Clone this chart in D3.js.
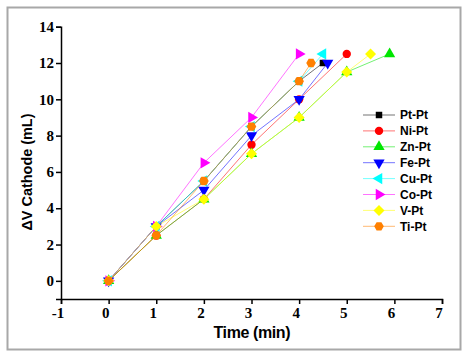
<!DOCTYPE html>
<html>
<head>
<meta charset="utf-8">
<script src="https://cdn.jsdelivr.net/npm/d3@7"></script>
<style>
  body { margin: 0; background: #fff; }
  svg { display: block; }
  .tl { font: bold 15px "Liberation Serif", "Times New Roman", serif; fill: #000; }
</style>
</head>
<body>
<script>
// data
const seriesNames = ["Pt-Pt", "Ni-Pt", "Zn-Pt", "Fe-Pt", "Cu-Pt", "Co-Pt", "V-Pt", "Ti-Pt"]
const colors = ["#000000", "#ff0000", "#00e600", "#0000ff", "#00ffff", "#ff00ff", "#ffff00", "#ff8000"]

const ptPt = [[0, 0], [1, 3], [2, 5.5], [3, 8.5], [4, 11], [4.5, 12]]
const niPt = [[0, 0], [1, 2.5], [2, 4.5], [3, 7.5], [4, 10], [5, 12.5]]
const znPt = [[0, 0], [1, 2.5], [2, 4.5], [3, 7], [4, 9], [5, 11.5], [5.9, 12.5]]
const fePt = [[0, 0], [1, 3], [2, 5], [3, 8], [4, 10], [4.6, 12]]
const cuPt = [[0, 0], [1, 3], [2, 5.5], [3, 8.5], [4, 11], [4.5, 12.5]]
const coPt = [[0, 0], [1, 3], [2, 6.5], [3, 9], [4, 12.5]]
const vPt = [[0, 0], [1, 3], [2, 4.5], [3, 7], [4, 9], [5, 11.5], [5.5, 12.5]]
const tiPt = [[0, 0], [1, 2.5], [2, 5.5], [3, 8.5], [4, 11], [4.25, 12]]

const xTicks = [-1, 0, 1, 2, 3, 4, 5, 6, 7]
const yTicks = [0, 2, 4, 6, 8, 10, 12, 14]

const allSeries = [ptPt, niPt, znPt, fePt, cuPt, coPt, vPt, tiPt]

const w = 466, h = 355

// marker shapes like Origin: square, circle, up, down, left, right, diamond, hexagon
function tri(angle) {
  return {
    draw(ctx, size) {
      let r = Math.sqrt(size / 1.3)
      for (let i = 0; i < 3; i++) {
        let a = angle + i * 2 * Math.PI / 3
        let px = r * Math.cos(a), py = r * Math.sin(a)
        i === 0 ? ctx.moveTo(px, py) : ctx.lineTo(px, py)
      }
      ctx.closePath()
    }
  }
}
const hexagon = {
  draw(ctx, size) {
    let r = Math.sqrt(size / 2.6)
    for (let i = 0; i < 6; i++) {
      let a = i * Math.PI / 3
      let px = r * Math.cos(a), py = r * Math.sin(a)
      i === 0 ? ctx.moveTo(px, py) : ctx.lineTo(px, py)
    }
    ctx.closePath()
  }
}
const diamond = {
  draw(ctx, size) {
    let r = Math.sqrt(size / 2)
    ctx.moveTo(0, -r); ctx.lineTo(r, 0); ctx.lineTo(0, r); ctx.lineTo(-r, 0); ctx.closePath()
  }
}
const shapes = [
  d3.symbol().type(d3.symbolSquare).size(42),
  d3.symbol().type(d3.symbolCircle).size(55),
  d3.symbol().type(tri(-Math.PI / 2)).size(55),
  d3.symbol().type(tri(Math.PI / 2)).size(55),
  d3.symbol().type(tri(Math.PI)).size(55),
  d3.symbol().type(tri(0)).size(55),
  d3.symbol().type(diamond).size(60),
  d3.symbol().type(hexagon).size(60)
]

let svg = d3.select("body").append("svg")
  .attr("width", w)
  .attr("height", h)

// outer frame
svg.append("rect")
  .attr("x", 7.5).attr("y", 7.5)
  .attr("width", 453).attr("height", 342)
  .attr("fill", "none")
  .attr("stroke", "#a8a8a8")
  .attr("stroke-width", 2)

let x = d3.scaleLinear().domain([-1, 7]).range([61, 442])
let y = d3.scaleLinear().domain([-1, 14]).range([299, 26.7])

// axes: lines and ticks from d3, labels drawn separately so the font sticks
let xAxis = svg.append("g")
  .attr("transform", "translate(0," + y(-1) + ")")
  .call(d3.axisBottom(x).tickValues(xTicks).tickSize(5).tickFormat(""))
let yAxis = svg.append("g")
  .attr("transform", "translate(" + x(-1) + ",0)")
  .call(d3.axisLeft(y).tickValues(yTicks).tickSize(5).tickFormat(""))

;[xAxis, yAxis].forEach(a => {
  a.select(".domain").attr("stroke", "#000").attr("stroke-width", 1.5)
  a.selectAll(".tick line").attr("stroke", "#000").attr("stroke-width", 1.5)
})

svg.append("g").selectAll("text")
  .data(xTicks)
  .enter()
  .append("text")
    .attr("class", "tl")
    .attr("x", d => x(d) - 3)
    .attr("y", y(-1) + 19)
    .attr("text-anchor", "middle")
    .text(d => d < 0 ? "-" + Math.abs(d) : d)

svg.append("g").selectAll("text")
  .data(yTicks)
  .enter()
  .append("text")
    .attr("class", "tl")
    .attr("x", x(-1) - 7)
    .attr("y", d => y(d))
    .attr("dy", "0.35em")
    .attr("text-anchor", "end")
    .text(d => d)

// axis titles
svg.append("text")
  .attr("x", 252).attr("y", 338)
  .attr("text-anchor", "middle")
  .attr("font-family", "Liberation Sans")
  .attr("font-weight", "bold")
  .attr("font-size", 16)
  .attr("textLength", 77)
  .text("Time (min)")
svg.append("text")
  .attr("transform", "translate(32,172) rotate(-90)")
  .attr("text-anchor", "middle")
  .attr("font-family", "Liberation Sans")
  .attr("font-weight", "bold")
  .attr("font-size", 15)
  .attr("textLength", 117)
  .attr("lengthAdjust", "spacingAndGlyphs")
  .text("ΔV Cathode (mL)")

let line = d3.line().x(d => x(d[0])).y(d => y(d[1]))

allSeries.forEach((s, i) => {
  let g = svg.append("g")
  g.append("path")
    .attr("d", line(s))
    .attr("fill", "none")
    .attr("stroke", colors[i])
    .attr("stroke-opacity", 0.55)
    .attr("stroke-width", 1)
  g.selectAll("path.m")
    .data(s)
    .enter()
    .append("path")
      .attr("class", "m")
      .attr("d", shapes[i])
      .attr("transform", d => "translate(" + x(d[0]) + "," + y(d[1]) + ")")
      .attr("fill", colors[i])
})

// legend
let legend = svg.append("g")
seriesNames.forEach((n, i) => {
  let ly = 115 + i * 15.9
  legend.append("line")
    .attr("x1", 363).attr("x2", 395)
    .attr("y1", ly).attr("y2", ly)
    .attr("stroke", colors[i])
    .attr("stroke-opacity", 0.55)
    .attr("stroke-width", 1)
  legend.append("path")
    .attr("d", shapes[i])
    .attr("transform", "translate(379," + ly + ")")
    .attr("fill", colors[i])
  legend.append("text")
    .attr("x", 400).attr("y", ly)
    .attr("dy", "0.35em")
    .attr("font-family", "Liberation Sans")
    .attr("font-weight", "bold")
    .attr("font-size", 12)
    .text(n)
})
</script>
</body>
</html>
